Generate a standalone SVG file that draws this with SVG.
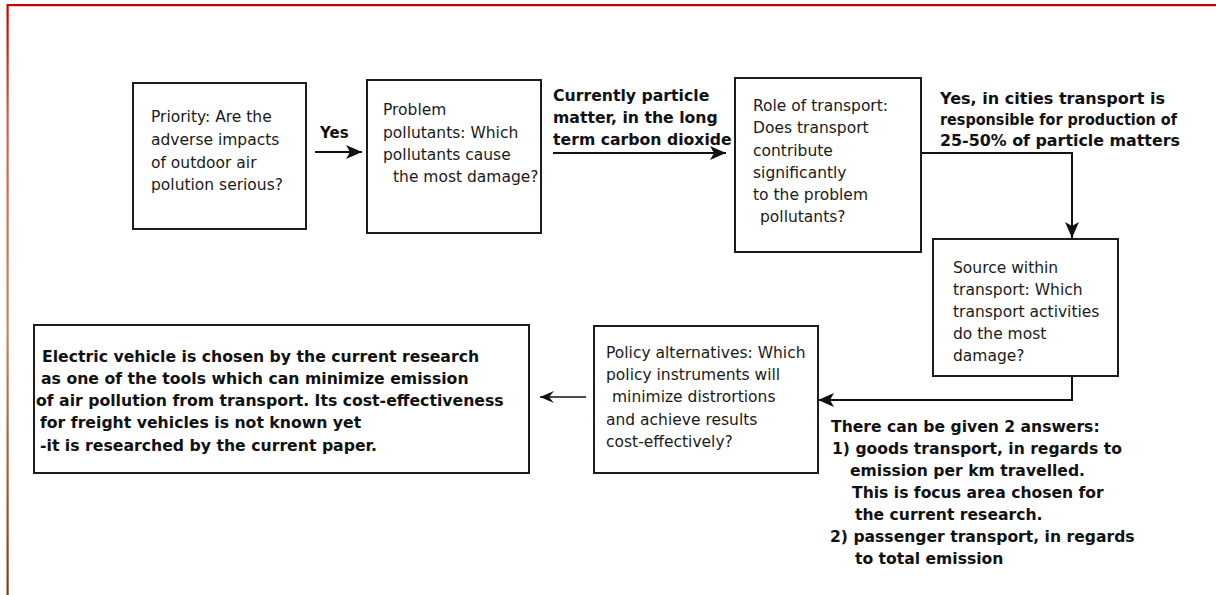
<svg xmlns="http://www.w3.org/2000/svg" width="1216" height="595" viewBox="0 0 1216 595">
  <style>
    .box { fill: #ffffff; stroke: #1c1c1c; stroke-width: 2; }
    .t { font-family: "DejaVu Sans", Verdana, sans-serif; font-size: 15.5px; fill: #1a1a1a; }
    .b { font-family: "DejaVu Sans", Verdana, sans-serif; font-weight: bold; fill: #111111; }
    .conn { fill: none; stroke: #111111; stroke-width: 2; }
    .thin { fill: none; stroke: #111111; stroke-width: 1.6; }
  </style>
  <defs>
    <linearGradient id="frameEdge" x1="0" y1="0" x2="0" y2="1">
      <stop offset="0" stop-color="#c80000"/>
      <stop offset="0.2" stop-color="#d4604a"/>
      <stop offset="0.55" stop-color="#c8845a"/>
      <stop offset="0.8" stop-color="#a85a2a"/>
      <stop offset="1" stop-color="#7d3a12"/>
    </linearGradient>
    <marker id="head" viewBox="0 0 16 14" refX="16" refY="7" markerWidth="16" markerHeight="14" markerUnits="userSpaceOnUse" orient="auto">
      <path d="M0,0 L16,7 L0,14 L4,7 z" fill="#111111"/>
    </marker>
    <marker id="headSmall" viewBox="0 0 14 12" refX="14" refY="6" markerWidth="14" markerHeight="12" markerUnits="userSpaceOnUse" orient="auto">
      <path d="M0,0 L14,6 L0,12 L5,6 z" fill="#111111"/>
    </marker>
  </defs>

  <rect width="1216" height="595" fill="#ffffff"/>

  <!-- page frame -->
  <g id="frame">
    <rect x="7" y="4" width="1209" height="2.2" fill="#c80000"/>
    <rect x="6.5" y="4" width="2.2" height="591" fill="url(#frameEdge)"/>
  </g>

  <!-- connectors -->
  <g id="connectors">
    <path class="conn" d="M315,152 H362" marker-end="url(#head)"/>
    <path class="conn" d="M553,153 H726" marker-end="url(#head)"/>
    <path class="conn" d="M921,153 H1072 V238" marker-end="url(#head)"/>
    <path class="conn" d="M1072,376 V400 H818" marker-end="url(#head)"/>
    <path class="thin" d="M586,397 H540" marker-end="url(#headSmall)"/>
  </g>

  <!-- connector labels -->
  <g id="label-yes">
    <text class="b" x="320" y="138" font-size="15">Yes</text>
  </g>
  <g id="label-pollutants">
    <text class="b" font-size="15.7">
      <tspan x="553" y="101">Currently particle</tspan>
      <tspan x="553" y="123">matter, in the long</tspan>
      <tspan x="553" y="145">term carbon dioxide</tspan>
    </text>
  </g>
  <g id="label-cities">
    <text class="b" font-size="15.5" lengthAdjust="spacingAndGlyphs" x="940" y="104" textLength="225">Yes, in cities transport is</text>
    <text class="b" font-size="15.5" lengthAdjust="spacingAndGlyphs" x="940" y="125" textLength="237">responsible for production of</text>
    <text class="b" font-size="15.5" lengthAdjust="spacingAndGlyphs" x="940" y="146" textLength="240">25-50% of particle matters</text>
  </g>
  <g id="label-answers">
    <text class="b" font-size="15.6">
      <tspan x="831" y="432">There can be given 2 answers:</tspan>
      <tspan x="832" y="454">1) goods transport, in regards to</tspan>
      <tspan x="850" y="476">emission per km travelled.</tspan>
      <tspan x="852" y="498">This is focus area chosen for</tspan>
      <tspan x="855" y="520">the current research.</tspan>
      <tspan x="830" y="542">2) passenger transport, in regards</tspan>
      <tspan x="855" y="564">to total emission</tspan>
    </text>
  </g>

  <!-- nodes -->
  <g id="node-priority">
    <rect class="box" x="133" y="83" width="173" height="146"/>
    <text class="t">
      <tspan x="151" y="122">Priority: Are the</tspan>
      <tspan x="151" y="145">adverse impacts</tspan>
      <tspan x="151" y="168">of outdoor air</tspan>
      <tspan x="151" y="190">polution serious?</tspan>
    </text>
  </g>

  <g id="node-problem-pollutants">
    <rect class="box" x="367" y="80" width="174" height="153"/>
    <text class="t">
      <tspan x="383" y="115">Problem</tspan>
      <tspan x="383" y="138">pollutants: Which</tspan>
      <tspan x="383" y="160">pollutants cause</tspan>
      <tspan x="393" y="182">the most damage?</tspan>
    </text>
  </g>

  <g id="node-role-of-transport">
    <rect class="box" x="735" y="78" width="186" height="174"/>
    <text class="t">
      <tspan x="753" y="111">Role of transport:</tspan>
      <tspan x="753" y="133">Does transport</tspan>
      <tspan x="753" y="156">contribute</tspan>
      <tspan x="753" y="178">significantly</tspan>
      <tspan x="753" y="200">to the problem</tspan>
      <tspan x="760" y="222">pollutants?</tspan>
    </text>
  </g>

  <g id="node-source-within-transport">
    <rect class="box" x="933" y="239" width="185" height="137"/>
    <text class="t">
      <tspan x="953" y="273">Source within</tspan>
      <tspan x="953" y="295">transport: Which</tspan>
      <tspan x="953" y="317">transport activities</tspan>
      <tspan x="953" y="339">do the most</tspan>
      <tspan x="953" y="361">damage?</tspan>
    </text>
  </g>

  <g id="node-policy-alternatives">
    <rect class="box" x="594" y="326" width="224" height="147"/>
    <text class="t">
      <tspan x="606" y="358">Policy alternatives: Which</tspan>
      <tspan x="606" y="380">policy instruments will</tspan>
      <tspan x="612" y="402">minimize distrortions</tspan>
      <tspan x="606" y="425">and achieve results</tspan>
      <tspan x="606" y="447">cost-effectively?</tspan>
    </text>
  </g>

  <g id="node-electric-vehicle">
    <rect class="box" x="34" y="325" width="495" height="148"/>
    <text class="b" font-size="15.7">
      <tspan x="42" y="362">Electric vehicle is chosen by the current research</tspan>
      <tspan x="41" y="384">as one of the tools which can minimize emission</tspan>
      <tspan x="36" y="406">of air pollution from transport. Its cost-effectiveness</tspan>
      <tspan x="40" y="428">for freight vehicles is not known yet</tspan>
      <tspan x="40" y="451">-it is researched by the current paper.</tspan>
    </text>
  </g>
</svg>
